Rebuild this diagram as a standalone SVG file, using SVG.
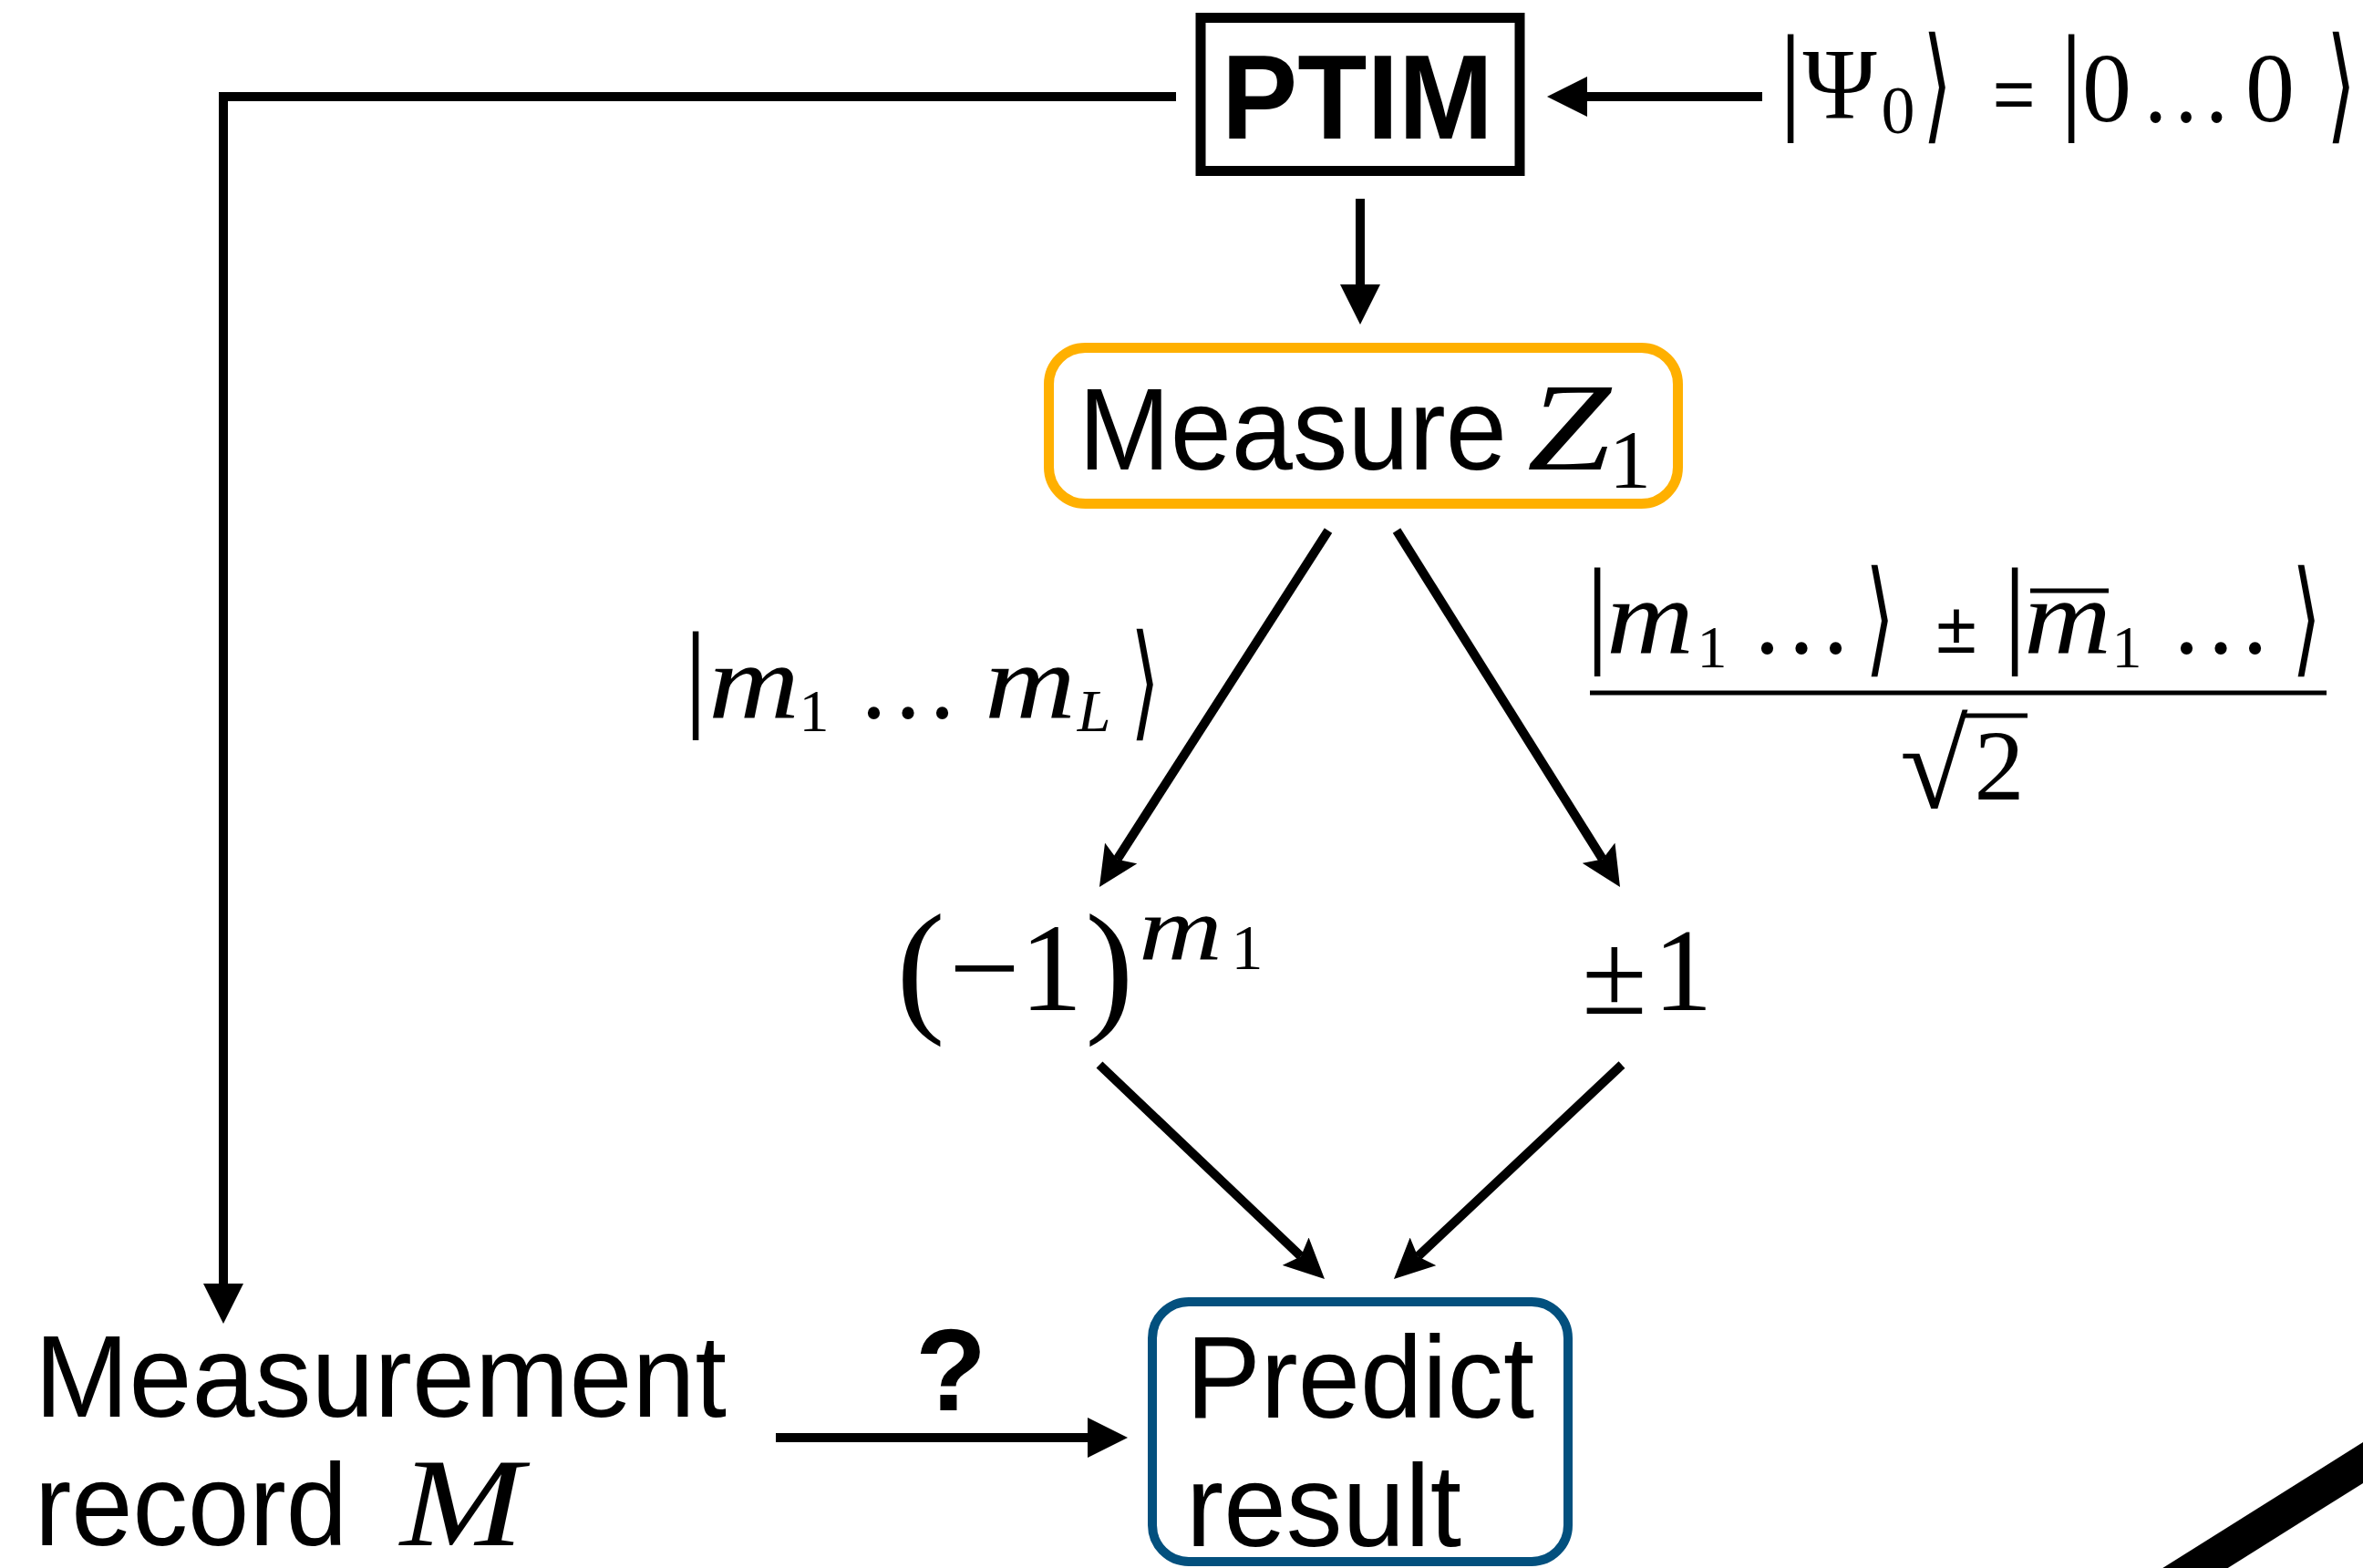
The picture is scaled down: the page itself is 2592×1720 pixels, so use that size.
<svg xmlns="http://www.w3.org/2000/svg" width="2592" height="1720" viewBox="0 0 2592 1720">
<style>
.sans{font-family:"Liberation Sans",Arial,sans-serif;fill:#000}
.bold{font-weight:bold}
.ser{font-family:"Liberation Serif","Times New Roman",serif;fill:#000}
.it{font-style:italic}
.mid{text-anchor:middle}
.br{font-family:"DejaVu Serif","DejaVu Sans",serif;fill:#000;text-anchor:middle}
.conn{fill:none;stroke:#000;stroke-width:10}
</style>
<defs>
<marker id="tri" viewBox="0 -22 44 44" refX="1" refY="0" markerWidth="44" markerHeight="44" markerUnits="userSpaceOnUse" orient="auto">
<path d="M0,-22 L44,0 L0,22 Z" fill="#000"/>
</marker>
<marker id="notch" viewBox="0 -21 44 42" refX="8" refY="0" markerWidth="44" markerHeight="42" markerUnits="userSpaceOnUse" orient="auto">
<path d="M0,-21 L44,0 L0,21 L8,0 Z" fill="#000"/>
</marker>
</defs>
<rect width="2592" height="1720" fill="#fff"/>

<g id="connectors">
<path class="conn" d="M1290,106 H245 V1409" marker-end="url(#tri)"/>
<path class="conn" d="M1933,106 H1740" marker-end="url(#tri)"/>
<path class="conn" d="M1492,218 V313" marker-end="url(#tri)"/>
<path class="conn" d="M1457,582 L1225.4,942.7" marker-end="url(#notch)"/>
<path class="conn" d="M1532,582 L1757.9,942.5" marker-end="url(#notch)"/>
<path class="conn" d="M1206,1168 L1426.9,1378.2" marker-end="url(#notch)"/>
<path class="conn" d="M1779,1168 L1555.2,1378.3" marker-end="url(#notch)"/>
<path class="conn" d="M851,1577 H1194" marker-end="url(#tri)"/>
<text class="sans bold mid" x="1043" y="1547" font-size="128">?</text>
</g>

<g id="ptim">
<rect x="1317" y="19.5" width="350" height="168" fill="#fff" stroke="#000" stroke-width="11"/>
<text class="sans bold" x="1340" y="152" font-size="131" textLength="298" lengthAdjust="spacingAndGlyphs">PTIM</text>
</g>

<g id="initial-state">
<text class="ser mid" x="1964" y="129" font-size="131">|</text>
<text class="ser mid" x="2018" y="129" font-size="110">Ψ</text>
<text class="ser mid" x="2082" y="146" font-size="74">0</text>
<text class="br" transform="translate(2125,139) scale(0.75,1.25)" font-size="110">⟩</text>
<text class="sans mid" x="2209" y="130" font-size="80">=</text>
<text class="ser mid" x="2272" y="129" font-size="131">|</text>
<text class="ser mid" x="2311" y="133" font-size="108">0</text>
<text class="ser mid" x="2398" y="133" font-size="108" textLength="100" lengthAdjust="spacingAndGlyphs">…</text>
<text class="ser mid" x="2490" y="133" font-size="108">0</text>
<text class="br" transform="translate(2568,139) scale(0.75,1.25)" font-size="110">⟩</text>
</g>

<g id="measure-z1">
<rect x="1150.5" y="381.5" width="690" height="171" rx="40" fill="#fff" stroke="#FFB000" stroke-width="11"/>
<text class="sans" x="1183" y="515" font-size="128" textLength="470" lengthAdjust="spacingAndGlyphs">Measure</text>
<text class="ser it mid" x="1721" y="515" font-size="138" textLength="92" lengthAdjust="spacingAndGlyphs">Z</text>
<text class="ser mid" x="1788" y="535" font-size="92">1</text>
</g>

<g id="label-left">
<text class="ser mid" x="763" y="784" font-size="131">|</text>
<text class="ser it mid" x="827" y="787" font-size="116" textLength="100" lengthAdjust="spacingAndGlyphs">m</text>
<text class="ser mid" x="893" y="802" font-size="66">1</text>
<text class="ser mid" x="996" y="787" font-size="116" textLength="112" lengthAdjust="spacingAndGlyphs">…</text>
<text class="ser it mid" x="1130" y="787" font-size="116" textLength="100" lengthAdjust="spacingAndGlyphs">m</text>
<text class="ser it mid" x="1200" y="802" font-size="66">L</text>
<text class="br" transform="translate(1256,794) scale(0.75,1.25)" font-size="110">⟩</text>
</g>

<g id="label-right">
<text class="ser mid" x="1752" y="714" font-size="131">|</text>
<text class="ser it mid" x="1810" y="716" font-size="116" textLength="96" lengthAdjust="spacingAndGlyphs">m</text>
<text class="ser mid" x="1878" y="732" font-size="66">1</text>
<text class="ser mid" x="1976" y="716" font-size="116" textLength="112" lengthAdjust="spacingAndGlyphs">…</text>
<text class="br" transform="translate(2062,724) scale(0.75,1.25)" font-size="110">⟩</text>
<text class="sans mid" x="2146" y="716" font-size="80">±</text>
<text class="ser mid" x="2210" y="714" font-size="131">|</text>
<text class="ser it mid" x="2268" y="716" font-size="116" textLength="96" lengthAdjust="spacingAndGlyphs">m</text>
<line x1="2227" y1="648" x2="2313" y2="648" stroke="#000" stroke-width="5"/>
<text class="ser mid" x="2333" y="732" font-size="66">1</text>
<text class="ser mid" x="2436" y="716" font-size="116" textLength="112" lengthAdjust="spacingAndGlyphs">…</text>
<text class="br" transform="translate(2530,724) scale(0.75,1.25)" font-size="110">⟩</text>
<line x1="1744" y1="760" x2="2552" y2="760" stroke="#000" stroke-width="5"/>
<text class="ser" x="2084" y="886" font-size="136">√</text>
<line x1="2152" y1="785" x2="2224" y2="785" stroke="#000" stroke-width="5"/>
<text class="ser mid" x="2193" y="877" font-size="110">2</text>
</g>

<g id="parity">
<text class="ser mid" x="1010" y="1114" font-size="160">(</text>
<text class="ser mid" x="1080" y="1108" font-size="138">−</text>
<text class="ser mid" x="1153" y="1108" font-size="138">1</text>
<text class="ser mid" x="1217" y="1114" font-size="160">)</text>
<text class="ser it mid" x="1295" y="1052" font-size="100" textLength="92" lengthAdjust="spacingAndGlyphs">m</text>
<text class="ser mid" x="1368" y="1063" font-size="70">1</text>
</g>

<g id="pm-one">
<text class="ser mid" x="1771" y="1112" font-size="130">±</text>
<text class="ser mid" x="1846" y="1108" font-size="130">1</text>
</g>

<g id="predict-result">
<rect x="1264" y="1428" width="456" height="285" rx="40" fill="#fff" stroke="#03507E" stroke-width="10"/>
<text class="sans" x="1301" y="1555" font-size="128" textLength="382" lengthAdjust="spacingAndGlyphs">Predict</text>
<text class="sans" x="1301" y="1696" font-size="128" textLength="302" lengthAdjust="spacingAndGlyphs">result</text>
</g>

<g id="measurement-record">
<text class="sans" x="38" y="1554" font-size="128" textLength="759" lengthAdjust="spacingAndGlyphs">Measurement</text>
<text class="sans" x="38" y="1695" font-size="128" textLength="343" lengthAdjust="spacingAndGlyphs">record</text>
<text class="ser it" x="439" y="1695" font-size="138" textLength="135" lengthAdjust="spacingAndGlyphs">M</text>
</g>

<g id="edge-stroke">
<line x1="2380" y1="1737.6" x2="2630" y2="1580.6" stroke="#000" stroke-width="38"/>
</g>
</svg>
